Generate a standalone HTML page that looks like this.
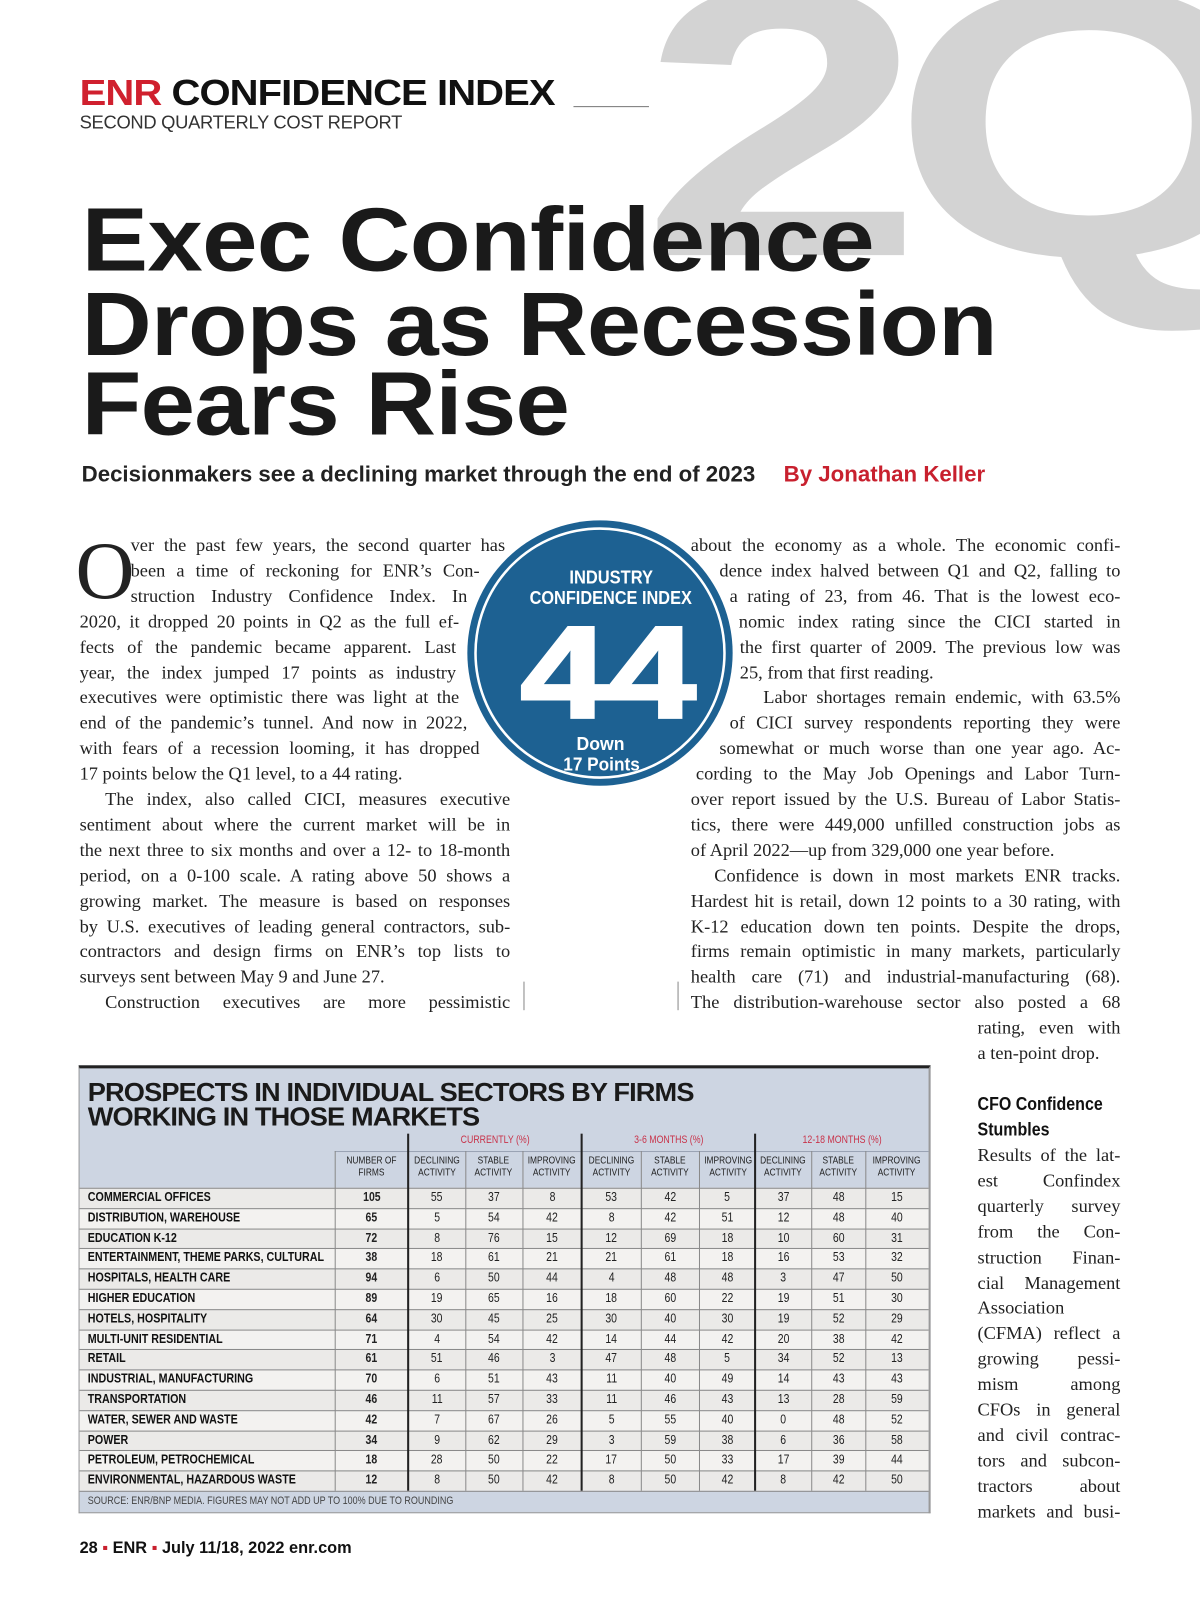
<!DOCTYPE html>
<html><head><meta charset="utf-8">
<style>
*{margin:0;padding:0;box-sizing:border-box}
body{width:1200px;height:1600px;background:#fff;position:relative;overflow:hidden;font-family:"Liberation Sans",sans-serif;color:#111}
#wrap{position:absolute;left:0;top:0;width:1176px;height:1568px;transform:scale(1.0204);transform-origin:0 0;overflow:hidden}
.abs{position:absolute}
.big2q{position:absolute;left:627px;top:-69px;font:bold 377px/1 "Liberation Sans",sans-serif;color:#d3d3d3;letter-spacing:-25px;white-space:nowrap;transform:scaleX(1.33);transform-origin:left top}
.hl{position:absolute;left:80px;font:bold 88px/1 "Liberation Sans",sans-serif;letter-spacing:-0.6px;white-space:nowrap;color:#1a1a1a;transform-origin:left top}
.ln{position:absolute;font:18px/25px "Liberation Serif",serif;color:#222;height:25px;white-space:nowrap;overflow:visible}
.j{text-align:justify;text-align-last:justify;white-space:normal}
.cell{position:absolute;font-size:12.5px;text-align:center;color:#222}
.sq{display:inline-block;transform:scaleX(.82);transform-origin:center}
.sql{display:inline-block;transform:scaleX(.84);transform-origin:left center;white-space:nowrap}
</style></head><body>
<div id="wrap">
<div class="big2q">2Q</div>

<div class="abs" style="left:78px;top:74px;font:bold 35px/1 'Liberation Sans',sans-serif;letter-spacing:-0.8px;white-space:nowrap;transform:scaleX(1.12);transform-origin:left top"><span style="color:#d0202e">ENR</span> CONFIDENCE INDEX</div>
<div class="abs" style="left:562px;top:104px;width:74px;height:1px;background:#777"></div>
<div class="abs" style="left:78px;top:111px;font:18px/1 'Liberation Sans',sans-serif;color:#333;letter-spacing:-0.3px">SECOND QUARTERLY COST REPORT</div>

<div class="hl" style="top:191px;transform:scaleX(1.109)">Exec Confidence</div>
<div class="hl" style="top:274px;transform:scaleX(1.08)">Drops as Recession</div>
<div class="hl" style="top:352px;transform:scaleX(1.088)">Fears Rise</div>

<div class="abs" style="left:80px;top:454px;font:bold 21.8px/1 'Liberation Sans',sans-serif;color:#222;white-space:nowrap">Decisionmakers see a declining market through the end of 2023</div>
<div class="abs" style="left:768px;top:454px;font:bold 21.8px/1 'Liberation Sans',sans-serif;color:#c8202e;white-space:nowrap">By Jonathan Keller</div>

<div class="abs" style="left:74px;top:520px;font:80px/1 'Liberation Serif',serif;color:#222">O</div>

<div id="leftcol"></div>
<div id="rightcol"></div>
<div id="sidecol"></div>

<div class="abs" style="left:513px;top:962px;width:1px;height:28px;background:#888"></div>
<div class="abs" style="left:664px;top:962px;width:1px;height:28px;background:#888"></div>

<svg class="abs" style="left:456px;top:508px" width="264" height="264">
<circle cx="132" cy="132" r="130" fill="#1d6192"/>
<circle cx="132" cy="132" r="122" fill="none" stroke="#fff" stroke-width="2.5"/>
<text x="102" y="64" textLength="82" lengthAdjust="spacingAndGlyphs" fill="#fff" font-family="Liberation Sans, sans-serif" font-weight="bold" font-size="18">INDUSTRY</text>
<text x="63" y="84" textLength="159" lengthAdjust="spacingAndGlyphs" fill="#fff" font-family="Liberation Sans, sans-serif" font-weight="bold" font-size="18">CONFIDENCE INDEX</text>
<text x="54" y="195" textLength="172" lengthAdjust="spacingAndGlyphs" fill="#fff" stroke="#fff" stroke-width="3" font-family="Liberation Sans, sans-serif" font-weight="bold" font-size="128">44</text>
<text x="109" y="227" textLength="47" lengthAdjust="spacingAndGlyphs" fill="#fff" font-family="Liberation Sans, sans-serif" font-weight="bold" font-size="18">Down</text>
<text x="96" y="247" textLength="75" lengthAdjust="spacingAndGlyphs" fill="#fff" font-family="Liberation Sans, sans-serif" font-weight="bold" font-size="18">17 Points</text>
</svg>

<div class="abs" style="left:958px;top:1070px;font-weight:bold;font-size:18px;line-height:25px;color:#111;transform:scaleX(.87);transform-origin:left top;white-space:nowrap">CFO Confidence<br>Stumbles</div>

<div id="table" class="abs" style="left:77px;top:1044px;width:835px;height:439px;background:#cdd5e2;border-top:3px solid #222;border-left:1px solid #999;border-right:2px solid #999;border-bottom:1px solid #999">
<div class="abs" style="left:8px;top:12px;font:bold 25px/24px 'Liberation Sans',sans-serif;letter-spacing:-0.8px;color:#1a1a1a;white-space:nowrap;transform:scaleX(1.066);transform-origin:left top">PROSPECTS IN INDIVIDUAL SECTORS BY FIRMS<br>WORKING IN THOSE MARKETS</div>
</div>

<div class="abs" style="left:78px;top:1510px;font:bold 16px/1 'Liberation Sans',sans-serif;color:#111;white-space:nowrap">28 <span style="color:#c8202e">▪</span> ENR <span style="color:#c8202e">▪</span> July 11/18, 2022 <span>enr.com</span></div>
</div>

<script>
const leftLines=[
[128,495,"ver the past few years, the second quarter has",1],
[128,470,"been a time of reckoning for ENR’s Con-",1],
[128,458,"struction Industry Confidence Index. In",1],
[78,450,"2020, it dropped 20 points in Q2 as the full ef-",1],
[78,447,"fects of the pandemic became apparent. Last",1],
[78,447,"year, the index jumped 17 points as industry",1],
[78,450,"executives were optimistic there was light at the",1],
[78,458,"end of the pandemic’s tunnel. And now in 2022,",1],
[78,470,"with fears of a recession looming, it has dropped",1],
[78,500,"17 points below the Q1 level, to a 44 rating.",0],
[103,500,"The index, also called CICI, measures executive",1],
[78,500,"sentiment about where the current market will be in",1],
[78,500,"the next three to six months and over a 12- to 18-month",1],
[78,500,"period, on a 0-100 scale. A rating above 50 shows a",1],
[78,500,"growing market. The measure is based on responses",1],
[78,500,"by U.S. executives of leading general contractors, sub-",1],
[78,500,"contractors and design firms on ENR’s top lists to",1],
[78,500,"surveys sent between May 9 and June 27.",0],
[103,500,"Construction executives are more pessimistic",1]];
const rightLines=[
[677,1098,"about the economy as a whole. The economic confi-",1],
[705,1098,"dence index halved between Q1 and Q2, falling to",1],
[715,1098,"a rating of 23, from 46. That is the lowest eco-",1],
[724,1098,"nomic index rating since the CICI started in",1],
[725,1098,"the first quarter of 2009. The previous low was",1],
[725,1098,"25, from that first reading.",0],
[748,1098,"Labor shortages remain endemic, with 63.5%",1],
[715,1098,"of CICI survey respondents reporting they were",1],
[705,1098,"somewhat or much worse than one year ago. Ac-",1],
[682,1098,"cording to the May Job Openings and Labor Turn-",1],
[677,1098,"over report issued by the U.S. Bureau of Labor Statis-",1],
[677,1098,"tics, there were 449,000 unfilled construction jobs as",1],
[677,1098,"of April 2022—up from 329,000 one year before.",0],
[700,1098,"Confidence is down in most markets ENR tracks.",1],
[677,1098,"Hardest hit is retail, down 12 points to a 30 rating, with",1],
[677,1098,"K-12 education down ten points. Despite the drops,",1],
[677,1098,"firms remain optimistic in many markets, particularly",1],
[677,1098,"health care (71) and industrial-manufacturing (68).",1],
[677,1098,"The distribution-warehouse sector also posted a 68",1],
[958,1098,"rating, even with",1],
[958,1098,"a ten-point drop.",0]];
const sideLines=["Results of the lat-","est Confindex","quarterly survey","from the Con-","struction Finan-","cial Management","Association","(CFMA) reflect a","growing pessi-","mism among","CFOs in general","and civil contrac-","tors and subcon-","tractors about","markets and busi-"];
function addLines(container,lines,top){
  const c=document.getElementById(container);
  lines.forEach((l,i)=>{
    const d=document.createElement('div');
    
    
    d.className='ln'+(l[3]?' j':'');
    d.style.left=l[0]+'px';d.style.width=(l[1]-l[0])+'px';d.style.top=(top+i*24.9)+'px';
    d.textContent=l[2];c.appendChild(d);
  });
}
addLines('leftcol',leftLines,522);
addLines('rightcol',rightLines,522);
addLines('sidecol',sideLines.map(s=>[958,1098,s,1]),1120);

// Table data
const sectors=["COMMERCIAL OFFICES","DISTRIBUTION, WAREHOUSE","EDUCATION K-12","ENTERTAINMENT, THEME PARKS, CULTURAL","HOSPITALS, HEALTH CARE","HIGHER EDUCATION","HOTELS, HOSPITALITY","MULTI-UNIT RESIDENTIAL","RETAIL","INDUSTRIAL, MANUFACTURING","TRANSPORTATION","WATER, SEWER AND WASTE","POWER","PETROLEUM, PETROCHEMICAL","ENVIRONMENTAL, HAZARDOUS WASTE"];
const firms=[105,65,72,38,94,89,64,71,61,70,46,42,34,18,12];
const curDecl=[55,5,8,18,6,19,30,4,51,6,11,7,9,28,8];
const curStab=[37,54,76,61,50,65,45,54,46,51,57,67,62,50,50];
const curImpr=[8,42,15,21,44,16,25,42,3,43,33,26,29,22,42];
const midDecl=[53,8,12,21,4,18,30,14,47,11,11,5,3,17,8];
const midStab=[42,42,69,61,48,60,40,44,48,40,46,55,59,50,50];
const midImpr=[5,51,18,18,48,22,30,42,5,49,43,40,38,33,42];
const lngDecl=[37,12,10,16,3,19,19,20,34,14,13,0,6,17,8];
const lngStab=[48,48,60,53,47,51,52,38,52,43,28,48,36,39,42];
const lngImpr=[15,40,31,32,50,30,29,42,13,43,59,52,58,44,50];
const groups=["CURRENTLY (%)","3-6 MONTHS (%)","12-18 MONTHS (%)"];
const colHeads=["NUMBER OF<br>FIRMS","DECLINING<br>ACTIVITY","STABLE<br>ACTIVITY","IMPROVING<br>ACTIVITY","DECLINING<br>ACTIVITY","STABLE<br>ACTIVITY","IMPROVING<br>ACTIVITY","DECLINING<br>ACTIVITY","STABLE<br>ACTIVITY","IMPROVING<br>ACTIVITY"];
const series=[firms,curDecl,curStab,curImpr,midDecl,midStab,midImpr,lngDecl,lngStab,lngImpr];

const T=document.getElementById('table');
const ox=78, oy=1047;
const edges=[77,328,400,456,512,570,628,685,740,795,848,910];
const rowTop=1164, rowH=19.8;
function mk(cls,css,html,name){
  const d=document.createElement('div');
  
  
  d.className=cls;d.style.cssText=css;d.innerHTML=html;T.appendChild(d);return d;
}
groups.forEach((g,k)=>{
  const x0=edges[2+3*k], x1=edges[5+3*k];
  mk('abs','left:'+(x0-ox)+'px;top:'+(1111-oy)+'px;width:'+(x1-x0)+'px;text-align:center;font-size:10.5px;color:#c8334a','<span class="sq">'+g+'</span>','group-header');
});
colHeads.forEach((h,k)=>{
  const x0=edges[k+1], x1=edges[k+2];
  mk('abs','left:'+(x0-ox)+'px;top:'+(1132-oy)+'px;width:'+(x1-x0)+'px;text-align:center;font-size:10px;line-height:12px;color:#222;white-space:nowrap','<span class="sq">'+h+'</span>','column-header');
});
mk('abs','left:'+(edges[1]-ox)+'px;top:'+(1128-oy)+'px;width:'+(edges[11]-edges[1])+'px;height:1px;background:#9aa3b3','','header-rule');
sectors.forEach((s,i)=>{
  const y=rowTop+i*rowH-oy;
  mk('abs','left:0;top:'+y+'px;width:'+(edges[11]-ox)+'px;height:'+rowH+'px;background:'+(i%2?'#f3f2f0':'#ebeae8')+';border-top:1px solid #8a8a8a','','table-row');
  mk('abs','left:8px;top:'+y+'px;font-weight:bold;font-size:12.5px;line-height:'+rowH+'px;white-space:nowrap','<span class="sql">'+s+'</span>','sector-label');
  series.forEach((arr,k)=>{
    const x0=edges[k+1], x1=edges[k+2];
    mk('cell','left:'+(x0-ox)+'px;top:'+y+'px;width:'+(x1-x0)+'px;line-height:'+rowH+'px;'+(k==0?'font-weight:bold;':''),'<span class="sq">'+arr[i]+'</span>','table-value');
  });
});
for(let k=1;k<edges.length-1;k++){
  const thick=(k==2||k==5||k==8);
  const top=thick?1111:1128;
  mk('abs','left:'+(edges[k]-ox-(thick?1:0))+'px;top:'+(top-oy)+'px;width:'+(thick?2:1)+'px;height:'+(rowTop+15*rowH-top)+'px;background:'+(thick?'#222':'#8a8a8a'),'','column-rule');
}
mk('abs','left:0;top:'+(rowTop+15*rowH-oy)+'px;width:'+(edges[11]-ox)+'px;height:1px;background:#8a8a8a','','table-bottom-rule');
mk('abs','left:8px;top:'+(1465-oy)+'px;font-size:10.5px;color:#444;white-space:nowrap','<span class="sql">SOURCE: ENR/BNP MEDIA. FIGURES MAY NOT ADD UP TO 100% DUE TO ROUNDING</span>','table-source-note');
</script>
</body></html>
